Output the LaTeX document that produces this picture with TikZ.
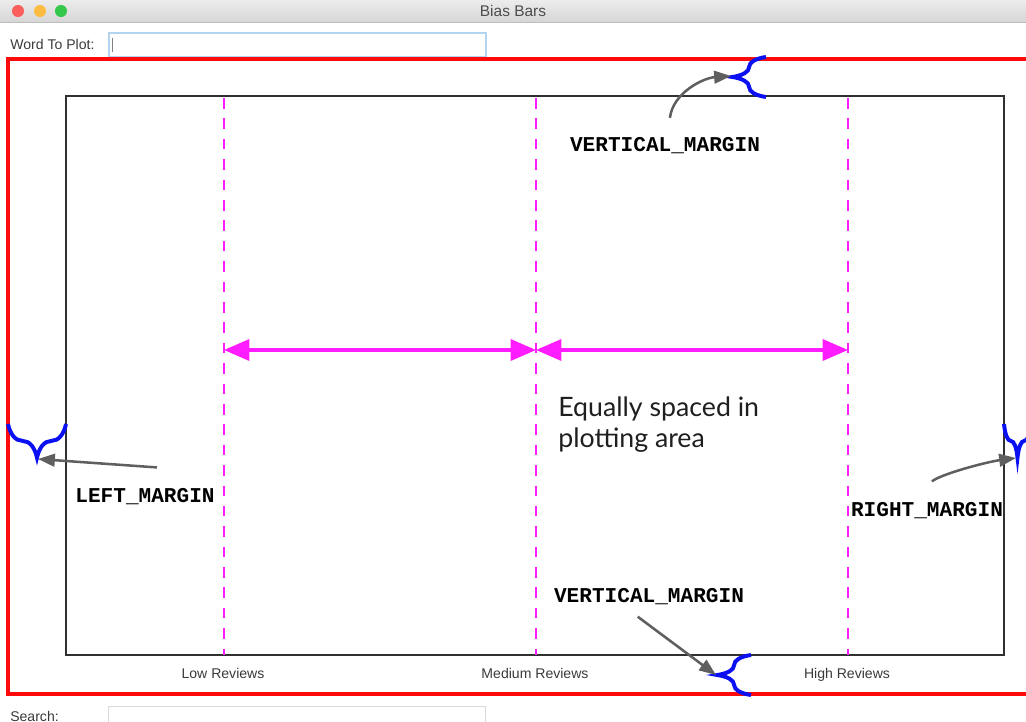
\documentclass[tikz,border=0pt]{standalone}
\usepackage{fontspec}
\setmainfont{Liberation Sans}
\newfontfamily\spacedfont{Lato}
\newfontfamily\codefont{Liberation Mono}
\usetikzlibrary{arrows.meta,positioning,decorations.pathreplacing}
\definecolor{redframe}{HTML}{FF0A0A}
\definecolor{braceblue}{HTML}{0A10F2}
\definecolor{magline}{HTML}{FF1CFF}
\definecolor{pointergray}{HTML}{5F5F5F}
\definecolor{plotedge}{HTML}{303030}
\definecolor{uitext}{HTML}{3A3A3A}
\definecolor{titlegray}{HTML}{4D4D4D}
\definecolor{fieldblue}{HTML}{B4D3EF}
\definecolor{fieldgray}{HTML}{DADADA}
\definecolor{barTop}{HTML}{ECECEC}
\definecolor{barBot}{HTML}{D6D6D6}
\definecolor{barline}{HTML}{BDBDBD}
\definecolor{closeR}{HTML}{FC605C}
\definecolor{minY}{HTML}{FDBC40}
\definecolor{zoomG}{HTML}{34C84A}

\begin{document}
\begin{tikzpicture}[x=0.025cm,y=-0.025cm,>=Stealth]
 \tikzstyle{uilbl}=[font=\fontsize{10}{12}\selectfont,text=uitext,inner sep=0pt]
 \tikzstyle{codelbl}=[font=\codefont\bfseries\fontsize{15}{18}\selectfont,text=black,inner sep=0pt]
 \tikzstyle{light}=[circle,inner sep=0pt,minimum size=8.6pt]
 \tikzstyle{field}=[draw,inner sep=0pt,anchor=north west,minimum width=268pt,minimum height=17pt]
 \tikzstyle{bracepath}=[draw=braceblue,line width=2.8pt,decorate,decoration={brace,amplitude=24pt}]
 \tikzstyle{pointer}=[draw=pointergray,line width=1.8pt,-{Triangle[length=12pt,width=9pt]}]
 \tikzstyle{colline}=[magline,line width=1.9pt,dash pattern=on 7.5pt off 7pt,dash phase=-1.5pt]
 \tikzstyle{spacing}=[magline,line width=2.2pt,{Triangle[length=18pt,width=15pt]}-{Triangle[length=18pt,width=15pt]}]
 \useasboundingbox (0,0) rectangle (1026,722);
 \clip (0,0) rectangle (1026,722);
 \fill[top color=barTop,bottom color=barBot] (0,0) rectangle (1026,22);
 \draw[barline,line width=0.7pt] (0,22) -- (1026,22);
 \node[light,fill=closeR] (close) at (18,11) {};
 \node[light,fill=minY] (mini) at (40,11) {};
 \node[light,fill=zoomG] (zoom) at (61,11) {};
 \node[font=\fontsize{11}{13}\selectfont,text=titlegray,inner sep=0pt] (title) at (513,11) {Bias Bars};
 \node[uilbl,anchor=west] (wordlbl) at (10,44) {Word To Plot:};
 \node[field,draw=fieldblue,line width=1.4pt] (wordbox) at (108,32) {};
 \draw[gray,line width=0.8pt] ([xshift=3.5pt,yshift=-4pt]wordbox.north west) -- ([xshift=3.5pt,yshift=4pt]wordbox.south west);
 \draw[redframe,line width=2.2pt] (1040,59) -- (8,59) -- (8,694) -- (1040,694);
 \draw[plotedge,line width=1pt] (66,96) rectangle (1004,655);
 \foreach \x/\name/\txt in {224/low/Low Reviews,536/med/Medium Reviews,848/high/High Reviews}{
  \draw[colline] (\x,96) -- (\x,655);
  \coordinate (\name) at (\x,350);
  \node[uilbl,anchor=base] (\name lbl) at (\x-1,678) {\txt};
 }
 \draw[spacing] (low) -- (med);
 \draw[spacing] (med) -- (high);
 \node[anchor=north west,align=left,inner sep=0pt,text=black!88,font=\spacedfont\fontsize{19}{21.6}\selectfont] (spaced) at (558,397) {Equally spaced in\\plotting area};
 \coordinate (topA) at (766,97); \coordinate (topB) at (766,57);
 \coordinate (leftA) at (66,424); \coordinate (leftB) at (8,424);
 \coordinate (rightA) at (1031,424); \coordinate (rightB) at (1004,424);
 \coordinate (botA) at (751,695); \coordinate (botB) at (751,655);
 \draw[bracepath] (topA) -- (topB);
 \draw[bracepath] (leftA) -- (leftB);
 \draw[bracepath] (rightA) -- (rightB);
 \draw[bracepath] (botA) -- (botB);
 \coordinate (toptip) at (731,76);
 \coordinate (lefttip) at (38,459);
 \coordinate (righttip) at (1016,458);
 \coordinate (bottip) at (716,675);
 \node[codelbl] (vtop) at (665,146) {VERTICAL\_MARGIN};
 \node[codelbl] (lm) at (145,497) {LEFT\_MARGIN};
 \node[codelbl] (rm) at (927,511) {RIGHT\_MARGIN};
 \node[codelbl] (vbot) at (649,597) {VERTICAL\_MARGIN};
 \draw[pointer] ([xshift=3.5pt,yshift=14pt]vtop.north) .. controls +(3,-25) and +(-28,2) .. (toptip);
 \draw[pointer] ([xshift=8.5pt,yshift=15pt]lm.north) -- (lefttip);
 \draw[pointer] ([xshift=3.5pt,yshift=15pt]rm.north) .. controls +(8,-7) and +(-30,4) .. (righttip);
 \draw[pointer] ([xshift=-8pt,yshift=-8pt]vbot.south) -- (bottip);
 \node[uilbl,anchor=west] (searchlbl) at (10,716) {Search:};
 \node[field,draw=fieldgray,line width=0.8pt] (searchbox) at (108,706) {};
\end{tikzpicture}
\end{document}
